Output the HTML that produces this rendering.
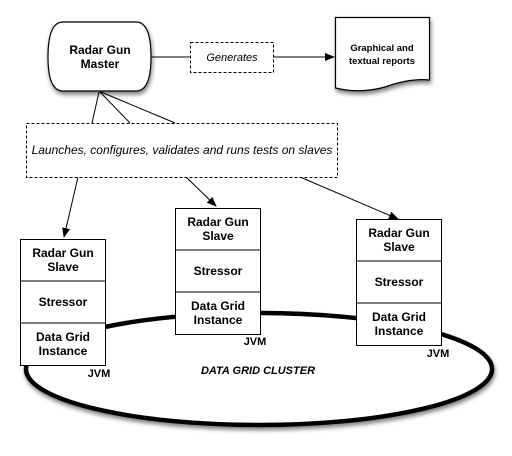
<!DOCTYPE html>
<html><head><style>body{margin:0;background:#fff}</style></head><body>
<svg width="512" height="451" viewBox="0 0 512 451" xmlns="http://www.w3.org/2000/svg" font-family="Liberation Sans, sans-serif">
<defs>
<marker id="a" markerWidth="10" markerHeight="8" refX="9" refY="4" orient="auto" markerUnits="userSpaceOnUse"><path d="M0,0 L10,4 L0,8z" fill="#000"/></marker>
<filter id="s" x="-10%" y="-10%" width="130%" height="140%"><feDropShadow dx="1" dy="3" stdDeviation="2" flood-opacity="0.5"/></filter>
</defs>
<ellipse cx="259" cy="369" rx="233" ry="56" fill="#fff" stroke="#000" stroke-width="4.5" filter="url(#s)"/>
<text x="258" y="374" font-size="11" font-weight="bold" font-style="italic" text-anchor="middle">DATA GRID CLUSTER</text>
<path d="M63,22 H136 Q151,22 151,57 Q151,91 136,91 H63 Q48,91 48,57 Q48,22 63,22z" fill="#fff" stroke="#000" stroke-width="1.2" filter="url(#s)"/>
<text x="100" y="54" font-size="12" font-weight="bold" text-anchor="middle">Radar Gun</text>
<text x="100" y="68" font-size="12" font-weight="bold" text-anchor="middle">Master</text>
<line x1="151" y1="57" x2="190" y2="57" stroke="#000"/>
<rect x="190.5" y="42.5" width="83" height="30" fill="#fff" stroke="#000" stroke-dasharray="3,2"/>
<text x="232" y="61" font-size="11" font-style="italic" text-anchor="middle">Generates</text>
<line x1="273" y1="57" x2="334" y2="57" stroke="#000" marker-end="url(#a)"/>
<path d="M335.5,17.5 H429.5 V80 Q410,78 385,87 Q360,94 335.5,88z" fill="#fff" stroke="#000" stroke-width="1.2" filter="url(#s)"/>
<text x="382" y="51" font-size="9.5" font-weight="bold" text-anchor="middle">Graphical and</text>
<text x="382" y="64" font-size="9.5" font-weight="bold" text-anchor="middle">textual reports</text>
<g stroke="#000"><line x1="99" y1="92" x2="92" y2="123"/><line x1="100" y1="92" x2="130" y2="123"/><line x1="101" y1="92" x2="175" y2="123"/>
<line x1="78" y1="177" x2="64" y2="237" marker-end="url(#a)"/>
<line x1="186" y1="177" x2="216" y2="206" marker-end="url(#a)"/>
<line x1="300" y1="177" x2="398" y2="219" marker-end="url(#a)"/></g>
<rect x="26.5" y="123.5" width="311" height="54" fill="#fff" stroke="#000" stroke-dasharray="3,2"/>
<text x="182" y="154" font-size="12" font-style="italic" text-anchor="middle">Launches, configures, validates and runs tests on slaves</text>
<g font-size="12" font-weight="bold" text-anchor="middle">
<g transform="translate(20,239)">
<rect x="0.5" y="0.5" width="85" height="126" fill="#fff" stroke="#000"/><line x1="0" y1="42" x2="86" y2="42" stroke="#000"/><line x1="0" y1="84" x2="86" y2="84" stroke="#000"/>
<text x="43" y="18">Radar Gun</text><text x="43" y="32">Slave</text><text x="43" y="67">Stressor</text><text x="43" y="102">Data Grid</text><text x="43" y="116">Instance</text>
<text x="79" y="138" font-size="11">JVM</text></g>
<g transform="translate(175,208)">
<rect x="0.5" y="0.5" width="85" height="126" fill="#fff" stroke="#000"/><line x1="0" y1="42" x2="86" y2="42" stroke="#000"/><line x1="0" y1="84" x2="86" y2="84" stroke="#000"/>
<text x="43" y="18">Radar Gun</text><text x="43" y="32">Slave</text><text x="43" y="67">Stressor</text><text x="43" y="102">Data Grid</text><text x="43" y="116">Instance</text>
<text x="80" y="137" font-size="11">JVM</text></g>
<g transform="translate(356,219)">
<rect x="0.5" y="0.5" width="85" height="126" fill="#fff" stroke="#000"/><line x1="0" y1="42" x2="86" y2="42" stroke="#000"/><line x1="0" y1="84" x2="86" y2="84" stroke="#000"/>
<text x="43" y="18">Radar Gun</text><text x="43" y="32">Slave</text><text x="43" y="67">Stressor</text><text x="43" y="102">Data Grid</text><text x="43" y="116">Instance</text>
<text x="82" y="138" font-size="11">JVM</text></g>
</g>
</svg>
</body></html>
